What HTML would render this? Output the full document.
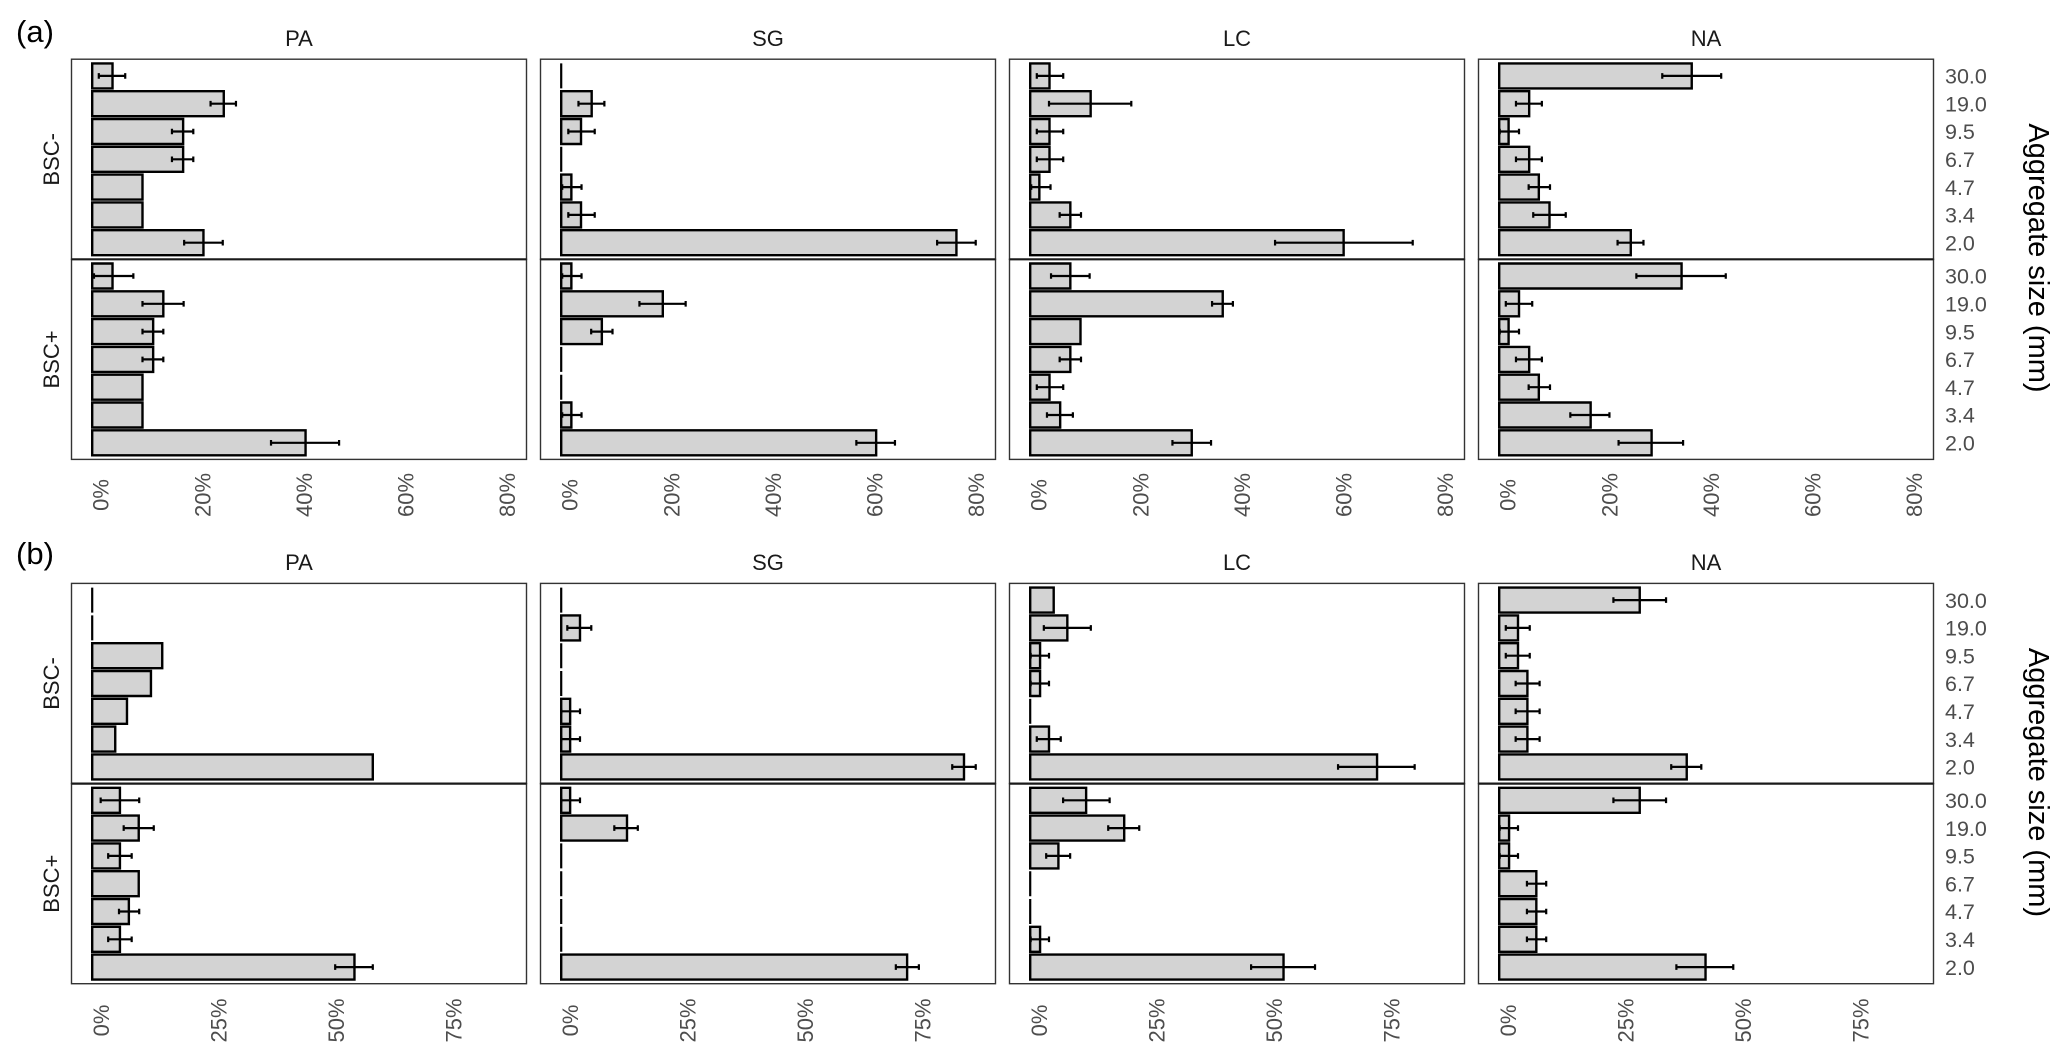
<!DOCTYPE html>
<html><head><meta charset="utf-8"><style>
html,body{margin:0;padding:0;background:#fff;}
svg{display:block;font-family:"Liberation Sans",Arial,sans-serif;}
.d rect,.d path{vector-effect:non-scaling-stroke;}
.d rect{fill:#d3d3d3;stroke:#000;stroke-width:2.4;}
.d path{fill:none;stroke:#000;stroke-width:2.2;}
.pb{fill:none;stroke:#333;stroke-width:1.4;}
.dv{stroke:#1a1a1a;stroke-width:2.2;}
.st{font-size:22px;fill:#1a1a1a;text-anchor:middle;}
.ax{font-size:22px;fill:#4d4d4d;text-anchor:middle;}
.ry{font-size:21.5px;fill:#4d4d4d;}
.tt{font-size:29px;fill:#000;text-anchor:middle;}
.lb{font-size:31px;fill:#000;}
</style></head><body>
<svg width="2067" height="1060" viewBox="0 0 2067 1060" xmlns="http://www.w3.org/2000/svg">
<rect width="2067" height="1060" fill="#fff"/>

<!-- ================= (a) ================= -->
<text class="lb" x="16" y="42">(a)</text>
<text class="st" x="299" y="46">PA</text>
<text class="st" x="768" y="46">SG</text>
<text class="st" x="1237" y="46">LC</text>
<text class="st" x="1706" y="46">NA</text>
<text class="st" transform="translate(59,159.3) rotate(-90)">BSC-</text>
<text class="st" transform="translate(59,359.4) rotate(-90)">BSC+</text>

<!-- PA a1 -->
<g class="d" transform="translate(92.2,59.2) scale(5.08,1)">
<rect y="4.2" width="4.0" height="25"/><rect y="32" width="25.9" height="25"/><rect y="59.8" width="17.9" height="25"/><rect y="87.6" width="17.9" height="25"/><rect y="115.4" width="9.9" height="25"/><rect y="143.2" width="9.9" height="25"/><rect y="171" width="21.9" height="25"/>
<path d="M1.3 16.7H6.5M1.3 13.9V19.5M6.5 13.9V19.5M23.3 44.5H28.3M23.3 41.7V47.3M28.3 41.7V47.3M15.7 72.3H19.9M15.7 69.5V75.1M19.9 69.5V75.1M15.7 100.1H19.9M15.7 97.3V102.9M19.9 97.3V102.9M18.1 183.5H25.7M18.1 180.7V186.3M25.7 180.7V186.3"/>
</g>
<!-- PA a2 -->
<g class="d" transform="translate(92.2,259.3) scale(5.08,1)">
<rect y="4.2" width="4.0" height="25"/><rect y="32" width="14.0" height="25"/><rect y="59.8" width="12.0" height="25"/><rect y="87.6" width="12.0" height="25"/><rect y="115.4" width="9.9" height="25"/><rect y="143.2" width="9.9" height="25"/><rect y="171" width="42.0" height="25"/>
<path d="M0.35 16.7H8.1M0.35 13.9V19.5M8.1 13.9V19.5M9.9 44.5H18M9.9 41.7V47.3M18 41.7V47.3M9.9 72.3H14M9.9 69.5V75.1M14 69.5V75.1M9.9 100.1H14M9.9 97.3V102.9M14 97.3V102.9M35.2 183.5H48.6M35.2 180.7V186.3M48.6 180.7V186.3"/>
</g>
<!-- SG a1 -->
<g class="d" transform="translate(561.2,59.2) scale(5.08,1)">
<path d="M0 4.2V29.2M0 87.6V112.6"/>
<rect y="32" width="6.0" height="25"/><rect y="59.8" width="3.9" height="25"/><rect y="115.4" width="2.0" height="25"/><rect y="143.2" width="3.9" height="25"/><rect y="171" width="77.8" height="25"/>
<path d="M3.4 44.5H8.5M3.4 41.7V47.3M8.5 41.7V47.3M1.4 72.3H6.6M1.4 69.5V75.1M6.6 69.5V75.1M0.2 127.9H4M0.2 125.1V130.7M4 125.1V130.7M1.4 155.7H6.6M1.4 152.9V158.5M6.6 152.9V158.5M74 183.5H81.6M74 180.7V186.3M81.6 180.7V186.3"/>
</g>
<!-- SG a2 -->
<g class="d" transform="translate(561.2,259.3) scale(5.08,1)">
<path d="M0 87.6V112.6M0 115.4V140.4"/>
<rect y="4.2" width="2.0" height="25"/><rect y="32" width="20.0" height="25"/><rect y="59.8" width="8.0" height="25"/><rect y="143.2" width="2.0" height="25"/><rect y="171" width="62.0" height="25"/>
<path d="M0.2 16.7H4M0.2 13.9V19.5M4 13.9V19.5M15.4 44.5H24.5M15.4 41.7V47.3M24.5 41.7V47.3M5.9 72.3H10.1M5.9 69.5V75.1M10.1 69.5V75.1M0.2 155.7H4M0.2 152.9V158.5M4 152.9V158.5M58.1 183.5H65.7M58.1 180.7V186.3M65.7 180.7V186.3"/>
</g>
<!-- LC a1 -->
<g class="d" transform="translate(1030.2,59.2) scale(5.08,1)">
<rect y="4.2" width="3.8" height="25"/><rect y="32" width="11.9" height="25"/><rect y="59.8" width="3.8" height="25"/><rect y="87.6" width="3.8" height="25"/><rect y="115.4" width="1.8" height="25"/><rect y="143.2" width="7.9" height="25"/><rect y="171" width="61.7" height="25"/>
<path d="M1.3 16.7H6.5M1.3 13.9V19.5M6.5 13.9V19.5M3.7 44.5H19.9M3.7 41.7V47.3M19.9 41.7V47.3M1.3 72.3H6.5M1.3 69.5V75.1M6.5 69.5V75.1M1.3 100.1H6.5M1.3 97.3V102.9M6.5 97.3V102.9M0.2 127.9H4M0.2 125.1V130.7M4 125.1V130.7M5.8 155.7H10M5.8 152.9V158.5M10 152.9V158.5M48.2 183.5H75.3M48.2 180.7V186.3M75.3 180.7V186.3"/>
</g>
<!-- LC a2 -->
<g class="d" transform="translate(1030.2,259.3) scale(5.08,1)">
<rect y="4.2" width="7.9" height="25"/><rect y="32" width="37.9" height="25"/><rect y="59.8" width="9.9" height="25"/><rect y="87.6" width="7.9" height="25"/><rect y="115.4" width="3.8" height="25"/><rect y="143.2" width="5.9" height="25"/><rect y="171" width="31.8" height="25"/>
<path d="M4.1 16.7H11.7M4.1 13.9V19.5M11.7 13.9V19.5M35.8 44.5H39.9M35.8 41.7V47.3M39.9 41.7V47.3M5.8 100.1H10M5.8 97.3V102.9M10 97.3V102.9M1.3 127.9H6.5M1.3 125.1V130.7M6.5 125.1V130.7M3.3 155.7H8.4M3.3 152.9V158.5M8.4 152.9V158.5M28 183.5H35.6M28 180.7V186.3M35.6 180.7V186.3"/>
</g>
<!-- NA a1 -->
<g class="d" transform="translate(1499.2,59.2) scale(5.08,1)">
<rect y="4.2" width="37.9" height="25"/><rect y="32" width="5.9" height="25"/><rect y="59.8" width="1.85" height="25"/><rect y="87.6" width="5.9" height="25"/><rect y="115.4" width="7.8" height="25"/><rect y="143.2" width="9.9" height="25"/><rect y="171" width="25.9" height="25"/>
<path d="M32.1 16.7H43.7M32.1 13.9V19.5M43.7 13.9V19.5M3.3 44.5H8.4M3.3 41.7V47.3M8.4 41.7V47.3M0.1 72.3H3.9M0.1 69.5V75.1M3.9 69.5V75.1M3.3 100.1H8.4M3.3 97.3V102.9M8.4 97.3V102.9M5.8 127.9H10M5.8 125.1V130.7M10 125.1V130.7M6.7 155.7H13.1M6.7 152.9V158.5M13.1 152.9V158.5M23.3 183.5H28.4M23.3 180.7V186.3M28.4 180.7V186.3"/>
</g>
<!-- NA a2 -->
<g class="d" transform="translate(1499.2,259.3) scale(5.08,1)">
<rect y="4.2" width="35.9" height="25"/><rect y="32" width="3.9" height="25"/><rect y="59.8" width="1.85" height="25"/><rect y="87.6" width="5.9" height="25"/><rect y="115.4" width="7.8" height="25"/><rect y="143.2" width="18.0" height="25"/><rect y="171" width="30.0" height="25"/>
<path d="M27 16.7H44.6M27 13.9V19.5M44.6 13.9V19.5M1.3 44.5H6.5M1.3 41.7V47.3M6.5 41.7V47.3M0.1 72.3H3.9M0.1 69.5V75.1M3.9 69.5V75.1M3.3 100.1H8.4M3.3 97.3V102.9M8.4 97.3V102.9M5.8 127.9H10M5.8 125.1V130.7M10 125.1V130.7M14 155.7H21.7M14 152.9V158.5M21.7 152.9V158.5M23.5 183.5H36.2M23.5 180.7V186.3M36.2 180.7V186.3"/>
</g>

<!-- panel borders (a) -->
<rect class="pb" x="71.5" y="59.2" width="455" height="200.1"/><rect class="pb" x="71.5" y="259.3" width="455" height="200.1"/>
<rect class="pb" x="540.5" y="59.2" width="455" height="200.1"/><rect class="pb" x="540.5" y="259.3" width="455" height="200.1"/>
<rect class="pb" x="1009.5" y="59.2" width="455" height="200.1"/><rect class="pb" x="1009.5" y="259.3" width="455" height="200.1"/>
<rect class="pb" x="1478.5" y="59.2" width="455" height="200.1"/><rect class="pb" x="1478.5" y="259.3" width="455" height="200.1"/>
<path class="dv" d="M71.5 259.3H526.5M540.5 259.3H995.5M1009.5 259.3H1464.5M1478.5 259.3H1933.5"/>

<!-- right axis (a) -->
<text class="ry" x="1945" y="83.6">30.0</text><text class="ry" x="1945" y="111.4">19.0</text><text class="ry" x="1945" y="139.2">9.5</text><text class="ry" x="1945" y="167">6.7</text><text class="ry" x="1945" y="194.8">4.7</text><text class="ry" x="1945" y="222.6">3.4</text><text class="ry" x="1945" y="250.4">2.0</text>
<text class="ry" x="1945" y="283.7">30.0</text><text class="ry" x="1945" y="311.5">19.0</text><text class="ry" x="1945" y="339.3">9.5</text><text class="ry" x="1945" y="367.1">6.7</text><text class="ry" x="1945" y="394.9">4.7</text><text class="ry" x="1945" y="422.7">3.4</text><text class="ry" x="1945" y="450.5">2.0</text>
<text class="tt" transform="translate(2029,258) rotate(90)">Aggregate size (mm)</text>

<!-- bottom axis (a) -->
<g class="ax">
<text transform="translate(108.7,495) rotate(-90)">0%</text><text transform="translate(210.3,495) rotate(-90)">20%</text><text transform="translate(311.9,495) rotate(-90)">40%</text><text transform="translate(413.5,495) rotate(-90)">60%</text><text transform="translate(515.1,495) rotate(-90)">80%</text>
<text transform="translate(577.7,495) rotate(-90)">0%</text><text transform="translate(679.3,495) rotate(-90)">20%</text><text transform="translate(780.9,495) rotate(-90)">40%</text><text transform="translate(882.5,495) rotate(-90)">60%</text><text transform="translate(984.1,495) rotate(-90)">80%</text>
<text transform="translate(1046.7,495) rotate(-90)">0%</text><text transform="translate(1148.3,495) rotate(-90)">20%</text><text transform="translate(1249.9,495) rotate(-90)">40%</text><text transform="translate(1351.5,495) rotate(-90)">60%</text><text transform="translate(1453.1,495) rotate(-90)">80%</text>
<text transform="translate(1515.7,495) rotate(-90)">0%</text><text transform="translate(1617.3,495) rotate(-90)">20%</text><text transform="translate(1718.9,495) rotate(-90)">40%</text><text transform="translate(1820.5,495) rotate(-90)">60%</text><text transform="translate(1922.1,495) rotate(-90)">80%</text>
</g>

<!-- ================= (b) ================= -->
<text class="lb" x="16" y="564">(b)</text>
<text class="st" x="299" y="570">PA</text>
<text class="st" x="768" y="570">SG</text>
<text class="st" x="1237" y="570">LC</text>
<text class="st" x="1706" y="570">NA</text>
<text class="st" transform="translate(59,683.5) rotate(-90)">BSC-</text>
<text class="st" transform="translate(59,883.7) rotate(-90)">BSC+</text>

<!-- PA b1 -->
<g class="d" transform="translate(92.2,583.4) scale(4.70,1)">
<path d="M0 4.2V29.2M0 32V57"/>
<rect y="59.8" width="14.9" height="25"/><rect y="87.6" width="12.5" height="25"/><rect y="115.4" width="7.4" height="25"/><rect y="143.2" width="4.9" height="25"/><rect y="171" width="59.7" height="25"/>
</g>
<!-- PA b2 -->
<g class="d" transform="translate(92.2,783.6) scale(4.70,1)">
<rect y="4.2" width="5.9" height="25"/><rect y="32" width="9.9" height="25"/><rect y="59.8" width="5.9" height="25"/><rect y="87.6" width="9.9" height="25"/><rect y="115.4" width="7.8" height="25"/><rect y="143.2" width="5.9" height="25"/><rect y="171" width="55.8" height="25"/>
<path d="M1.8 16.7H10M1.8 13.9V19.5M10 13.9V19.5M6.7 44.5H13.1M6.7 41.7V47.3M13.1 41.7V47.3M3.4 72.3H8.4M3.4 69.5V75.1M8.4 69.5V75.1M5.7 127.9H10M5.7 125.1V130.7M10 125.1V130.7M3.4 155.7H8.4M3.4 152.9V158.5M8.4 152.9V158.5M51.7 183.5H59.7M51.7 180.7V186.3M59.7 180.7V186.3"/>
</g>
<!-- SG b1 -->
<g class="d" transform="translate(561.2,583.4) scale(4.70,1)">
<path d="M0 4.2V29.2M0 59.8V84.8M0 87.6V112.6"/>
<rect y="32" width="4.0" height="25"/><rect y="115.4" width="1.9" height="25"/><rect y="143.2" width="1.9" height="25"/><rect y="171" width="85.7" height="25"/>
<path d="M1.3 44.5H6.4M1.3 41.7V47.3M6.4 41.7V47.3M0 127.9H4M0 125.1V130.7M4 125.1V130.7M0 155.7H4M0 152.9V158.5M4 152.9V158.5M83.2 183.5H88.2M83.2 180.7V186.3M88.2 180.7V186.3"/>
</g>
<!-- SG b2 -->
<g class="d" transform="translate(561.2,783.6) scale(4.70,1)">
<path d="M0 59.8V84.8M0 87.6V112.6M0 115.4V140.4M0 143.2V168.2"/>
<rect y="4.2" width="1.9" height="25"/><rect y="32" width="14.0" height="25"/><rect y="171" width="73.6" height="25"/>
<path d="M0 16.7H4M0 13.9V19.5M4 13.9V19.5M11.3 44.5H16.3M11.3 41.7V47.3M16.3 41.7V47.3M71.2 183.5H76.1M71.2 180.7V186.3M76.1 180.7V186.3"/>
</g>
<!-- LC b1 -->
<g class="d" transform="translate(1030.2,583.4) scale(4.70,1)">
<path d="M0 115.4V140.4"/>
<rect y="4.2" width="5.0" height="25"/><rect y="32" width="7.9" height="25"/><rect y="59.8" width="2.1" height="25"/><rect y="87.6" width="2.1" height="25"/><rect y="143.2" width="4.0" height="25"/><rect y="171" width="73.8" height="25"/>
<path d="M2.9 44.5H12.9M2.9 41.7V47.3M12.9 41.7V47.3M0.1 72.3H4M0.1 69.5V75.1M4 69.5V75.1M0.1 100.1H4M0.1 97.3V102.9M4 97.3V102.9M1.4 155.7H6.5M1.4 152.9V158.5M6.5 152.9V158.5M65.5 183.5H81.8M65.5 180.7V186.3M81.8 180.7V186.3"/>
</g>
<!-- LC b2 -->
<g class="d" transform="translate(1030.2,783.6) scale(4.70,1)">
<path d="M0 87.6V112.6M0 115.4V140.4"/>
<rect y="4.2" width="11.9" height="25"/><rect y="32" width="20.0" height="25"/><rect y="59.8" width="6.0" height="25"/><rect y="143.2" width="2.1" height="25"/><rect y="171" width="53.9" height="25"/>
<path d="M7 16.7H16.9M7 13.9V19.5M16.9 13.9V19.5M16.6 44.5H23.2M16.6 41.7V47.3M23.2 41.7V47.3M3.4 72.3H8.5M3.4 69.5V75.1M8.5 69.5V75.1M0.1 155.7H4M0.1 152.9V158.5M4 152.9V158.5M47 183.5H60.6M47 180.7V186.3M60.6 180.7V186.3"/>
</g>
<!-- NA b1 -->
<g class="d" transform="translate(1499.2,583.4) scale(4.70,1)">
<rect y="4.2" width="29.9" height="25"/><rect y="32" width="4.0" height="25"/><rect y="59.8" width="4.0" height="25"/><rect y="87.6" width="6.0" height="25"/><rect y="115.4" width="6.0" height="25"/><rect y="143.2" width="6.0" height="25"/><rect y="171" width="39.9" height="25"/>
<path d="M24.3 16.7H35.5M24.3 13.9V19.5M35.5 13.9V19.5M1.4 44.5H6.5M1.4 41.7V47.3M6.5 41.7V47.3M1.4 72.3H6.5M1.4 69.5V75.1M6.5 69.5V75.1M3.5 100.1H8.6M3.5 97.3V102.9M8.6 97.3V102.9M3.5 127.9H8.6M3.5 125.1V130.7M8.6 125.1V130.7M3.5 155.7H8.6M3.5 152.9V158.5M8.6 152.9V158.5M36.6 183.5H43M36.6 180.7V186.3M43 180.7V186.3"/>
</g>
<!-- NA b2 -->
<g class="d" transform="translate(1499.2,783.6) scale(4.70,1)">
<rect y="4.2" width="29.9" height="25"/><rect y="32" width="2.1" height="25"/><rect y="59.8" width="2.1" height="25"/><rect y="87.6" width="7.9" height="25"/><rect y="115.4" width="7.9" height="25"/><rect y="143.2" width="7.9" height="25"/><rect y="171" width="43.9" height="25"/>
<path d="M24.3 16.7H35.5M24.3 13.9V19.5M35.5 13.9V19.5M0.1 44.5H4M0.1 41.7V47.3M4 41.7V47.3M0.1 72.3H4M0.1 69.5V75.1M4 69.5V75.1M5.9 100.1H10M5.9 97.3V102.9M10 97.3V102.9M5.9 127.9H10M5.9 125.1V130.7M10 125.1V130.7M5.9 155.7H10M5.9 152.9V158.5M10 152.9V158.5M37.7 183.5H49.8M37.7 180.7V186.3M49.8 180.7V186.3"/>
</g>

<!-- panel borders (b) -->
<rect class="pb" x="71.5" y="583.4" width="455" height="200.2"/><rect class="pb" x="71.5" y="783.6" width="455" height="200.1"/>
<rect class="pb" x="540.5" y="583.4" width="455" height="200.2"/><rect class="pb" x="540.5" y="783.6" width="455" height="200.1"/>
<rect class="pb" x="1009.5" y="583.4" width="455" height="200.2"/><rect class="pb" x="1009.5" y="783.6" width="455" height="200.1"/>
<rect class="pb" x="1478.5" y="583.4" width="455" height="200.2"/><rect class="pb" x="1478.5" y="783.6" width="455" height="200.1"/>
<path class="dv" d="M71.5 783.6H526.5M540.5 783.6H995.5M1009.5 783.6H1464.5M1478.5 783.6H1933.5"/>

<!-- right axis (b) -->
<text class="ry" x="1945" y="607.8">30.0</text><text class="ry" x="1945" y="635.6">19.0</text><text class="ry" x="1945" y="663.4">9.5</text><text class="ry" x="1945" y="691.2">6.7</text><text class="ry" x="1945" y="719">4.7</text><text class="ry" x="1945" y="746.8">3.4</text><text class="ry" x="1945" y="774.6">2.0</text>
<text class="ry" x="1945" y="808">30.0</text><text class="ry" x="1945" y="835.8">19.0</text><text class="ry" x="1945" y="863.6">9.5</text><text class="ry" x="1945" y="891.4">6.7</text><text class="ry" x="1945" y="919.2">4.7</text><text class="ry" x="1945" y="947">3.4</text><text class="ry" x="1945" y="974.8">2.0</text>
<text class="tt" transform="translate(2029,782.5) rotate(90)">Aggregate size (mm)</text>

<!-- bottom axis (b) -->
<g class="ax">
<text transform="translate(109,1020.5) rotate(-90)">0%</text><text transform="translate(226.5,1020.5) rotate(-90)">25%</text><text transform="translate(344,1020.5) rotate(-90)">50%</text><text transform="translate(461.5,1020.5) rotate(-90)">75%</text>
<text transform="translate(578,1020.5) rotate(-90)">0%</text><text transform="translate(695.5,1020.5) rotate(-90)">25%</text><text transform="translate(813,1020.5) rotate(-90)">50%</text><text transform="translate(930.5,1020.5) rotate(-90)">75%</text>
<text transform="translate(1047,1020.5) rotate(-90)">0%</text><text transform="translate(1164.5,1020.5) rotate(-90)">25%</text><text transform="translate(1282,1020.5) rotate(-90)">50%</text><text transform="translate(1399.5,1020.5) rotate(-90)">75%</text>
<text transform="translate(1516,1020.5) rotate(-90)">0%</text><text transform="translate(1633.5,1020.5) rotate(-90)">25%</text><text transform="translate(1751,1020.5) rotate(-90)">50%</text><text transform="translate(1868.5,1020.5) rotate(-90)">75%</text>
</g>
</svg>
</body></html>
